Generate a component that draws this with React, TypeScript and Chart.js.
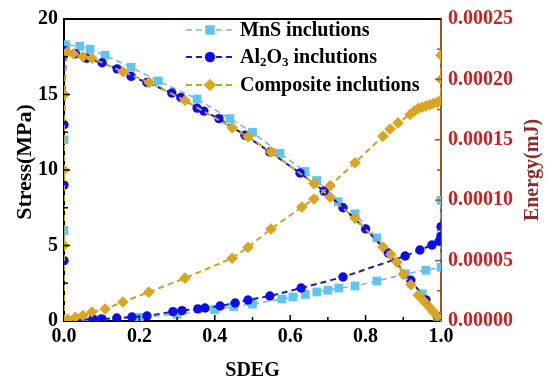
import React, { useEffect, useRef } from 'react';
import { Chart, registerables } from 'chart.js';

Chart.register(...registerables);

const FONT = "'Liberation Serif', 'Times New Roman', serif";

// ---- data (SDEG vs stress / energy) ----
const mnsStressX = [0, 0, 0, 0.004, 0.042, 0.069, 0.109, 0.178, 0.25, 0.353, 0.44, 0.5, 0.573, 0.639, 0.67, 0.727, 0.772, 0.83, 0.905, 0.95, 0.99];
const mnsStress = [0, 6, 12, 18.3, 18.2, 18.0, 17.6, 16.8, 15.9, 14.7, 13.4, 12.5, 11.1, 9.9, 9.3, 7.9, 7.1, 5.5, 3.1, 1.8, 0.3];

const alStressX = [0, 0, 0, 0, 0.003, 0.03, 0.06, 0.101, 0.141, 0.178, 0.22, 0.286, 0.31, 0.353, 0.371, 0.411, 0.48, 0.546, 0.626, 0.69, 0.74, 0.8, 0.86, 0.92, 0.96, 0.99];
const alStress = [0, 4, 9, 13, 17.9, 17.7, 17.4, 17.1, 16.7, 16.2, 15.8, 15.1, 14.8, 14.1, 13.9, 13.4, 12.3, 11.2, 9.8, 8.6, 7.5, 6.1, 4.5, 2.7, 1.4, 0.3];

const compStressX = [0, 0, 0, 0, 0.008, 0.025, 0.05, 0.074, 0.157, 0.226, 0.321, 0.446, 0.488, 0.549, 0.663, 0.706, 0.772, 0.846, 0.867, 0.883, 0.9, 0.92, 0.94, 0.955, 0.97, 0.98, 0.99];
const compStress = [0, 5, 10, 15, 17.8, 17.7, 17.5, 17.4, 16.5, 15.8, 14.6, 12.8, 12.2, 11.2, 9.1, 8.2, 6.8, 4.9, 4.4, 3.9, 3.1, 2.4, 1.7, 1.3, 0.9, 0.6, 0.3];

const mnsEnergyX = [0, 0.1, 0.2, 0.3, 0.4, 0.45, 0.5, 0.578, 0.607, 0.64, 0.671, 0.7, 0.729, 0.772, 0.83, 0.905, 0.96, 1.0, 1.0, 1.0];
const mnsEnergy = [0, 0.000001, 0.000003, 0.0000055, 0.0000095, 0.000012, 0.000014, 0.0000182, 0.0000199, 0.000022, 0.000024, 0.0000255, 0.0000273, 0.000029, 0.0000331, 0.0000389, 0.000042, 0.0000445, 0.00007, 0.0001];

const alEnergyX = [0, 0.04, 0.077, 0.1, 0.14, 0.18, 0.22, 0.289, 0.313, 0.355, 0.374, 0.414, 0.454, 0.488, 0.546, 0.629, 0.74, 0.905, 0.944, 0.976, 0.995, 1.0, 1.0];
const alEnergy = [0, 0.000001, 0.0000017, 0.0000017, 0.0000025, 0.0000033, 0.0000041, 0.0000078, 0.0000086, 0.00001, 0.0000108, 0.0000124, 0.0000149, 0.0000174, 0.0000207, 0.0000273, 0.0000364, 0.0000538, 0.0000588, 0.0000629, 0.000066, 0.00007, 0.000078];

const compEnergyX = [0, 0.01, 0.03, 0.05, 0.074, 0.109, 0.156, 0.225, 0.321, 0.446, 0.488, 0.549, 0.631, 0.663, 0.706, 0.772, 0.846, 0.865, 0.886, 0.918, 0.93, 0.94, 0.95, 0.96, 0.97, 0.98, 0.99, 1.0, 1.0, 1.0];
const compEnergy = [0, 0.0000015, 0.000003, 0.0000045, 0.0000074, 0.0000099, 0.0000157, 0.0000239, 0.0000355, 0.000052, 0.000061, 0.0000762, 0.0000944, 0.000101, 0.000112, 0.000131, 0.000153, 0.000159, 0.000164, 0.000171, 0.000174, 0.000176, 0.000177, 0.000178, 0.000179, 0.00018, 0.000181, 0.000183, 0.0002, 0.00022];

// ---- ticks & labels ----
const xMajor = [0, 0.2, 0.4, 0.6, 0.8, 1.0];
const xMinor = [0.1, 0.3, 0.5, 0.7, 0.9];
const stressMajor = [5, 10, 15];
const stressMinor = [2.5, 7.5, 12.5, 17.5];
const energyMajor = [0.00005, 0.0001, 0.00015, 0.0002];
const energyMinor = [0.000025, 0.000075, 0.000125, 0.000175, 0.000225];

const xTitle = 'SDEG';
const yTitle = 'Stress(MPa)';
const y1Title = 'Energy(mJ)';

const legendRows = [
  { parts: [{ t: 'MnS inclutions' }], key: 'mns' },
  { parts: [{ t: 'Al' }, { t: '2', sub: true }, { t: 'O' }, { t: '3', sub: true }, { t: ' inclutions' }], key: 'al' },
  { parts: [{ t: 'Composite inclutions' }], key: 'comp' },
];

const STYLE: any = {
  mns: { line: '#86b2e6', point: '#5fc4f0', shape: 'rect', radius: 6.2 },
  al: { line: '#1d1da6', point: '#0c0cf2', shape: 'circle', radius: 4.7 },
  comp: { line: '#c9a227', point: '#dba520', shape: 'rectRot', radius: 5.8 },
};

const RIGHT_AXIS = '#a0522d';

function pts(xs: number[], ys: number[]) {
  return xs.map((x, i) => ({ x, y: ys[i] }));
}

function ds(label: string, key: string, data: any, axis: string) {
  const s = STYLE[key];
  return {
    label,
    data,
    yAxisID: axis,
    borderColor: s.line,
    borderWidth: key === 'mns' ? 1.6 : 2,
    borderDash: [6, 4],
    backgroundColor: s.point,
    pointBackgroundColor: s.point,
    pointBorderColor: s.point,
    pointBorderWidth: 0,
    pointStyle: s.shape,
    pointRadius: s.radius,
    tension: 0,
    fill: false,
  };
}

function marker(ctx: CanvasRenderingContext2D, shape: string, r: number, x: number, y: number) {
  ctx.beginPath();
  if (shape === 'circle') {
    ctx.arc(x, y, r, 0, Math.PI * 2);
  } else if (shape === 'rect') {
    const h = r * Math.SQRT1_2;
    ctx.rect(x - h, y - h, 2 * h, 2 * h);
  } else {
    ctx.moveTo(x - r, y);
    ctx.lineTo(x, y - r);
    ctx.lineTo(x + r, y);
    ctx.lineTo(x, y + r);
    ctx.closePath();
  }
  ctx.fill();
}

const decorPlugin = {
  id: 'decor',
  afterDatasetsDraw(chart: any) {
    const { ctx, chartArea, scales } = chart;
    const { left, right, top, bottom } = chartArea;
    ctx.save();
    ctx.strokeStyle = '#000';
    ctx.lineWidth = 2;
    ctx.beginPath();
    ctx.moveTo(left - 1, top);
    ctx.lineTo(right, top);
    ctx.stroke();

    ctx.lineWidth = 1.5;
    const tick = (x1: number, y1: number, x2: number, y2: number, color: string) => {
      ctx.strokeStyle = color;
      ctx.beginPath();
      ctx.moveTo(x1, y1);
      ctx.lineTo(x2, y2);
      ctx.stroke();
    };
    xMajor.forEach((v) => {
      const px = scales.x.getPixelForValue(v);
      if (v > 0 && v < 1) tick(px, bottom, px, bottom - 6, '#000');
    });
    xMinor.forEach((v) => {
      const px = scales.x.getPixelForValue(v);
      tick(px, bottom, px, bottom - 4, '#000');
    });
    stressMajor.forEach((v) => {
      const py = scales.y.getPixelForValue(v);
      tick(left, py, left + 6, py, '#000');
    });
    stressMinor.forEach((v) => {
      const py = scales.y.getPixelForValue(v);
      tick(left, py, left + 4, py, '#000');
    });
    energyMajor.forEach((v) => {
      const py = scales.y1.getPixelForValue(v);
      tick(right, py, right - 6, py, RIGHT_AXIS);
    });
    energyMinor.forEach((v) => {
      const py = scales.y1.getPixelForValue(v);
      tick(right, py, right - 4, py, RIGHT_AXIS);
    });
    ctx.restore();
  },
  afterDraw(chart: any) {
    const { ctx, chartArea } = chart;
    const { left, right, top, bottom } = chartArea;
    ctx.save();
    ctx.fillStyle = '#000';
    ctx.textAlign = 'center';
    ctx.textBaseline = 'middle';
    ctx.font = `bold 20px ${FONT}`;
    ctx.fillText(xTitle, (left + right) / 2, 371);

    ctx.save();
    ctx.translate(25, (top + bottom) / 2 - 8);
    ctx.rotate(-Math.PI / 2);
    ctx.font = `bold 22px ${FONT}`;
    ctx.fillText(yTitle, 0, 0);
    ctx.restore();

    ctx.save();
    ctx.translate(533, (top + bottom) / 2);
    ctx.rotate(-Math.PI / 2);
    ctx.fillStyle = '#8b2b2b';
    ctx.font = `bold 20px ${FONT}`;
    ctx.fillText(y1Title, 0, 0);
    ctx.restore();

    const rowsY = [30, 57, 85];
    const lineX1 = 186;
    const lineX2 = 232;
    const markX = 210;
    const textX = 240;
    legendRows.forEach((row, i) => {
      const s = STYLE[row.key];
      const y = rowsY[i];
      ctx.strokeStyle = s.line;
      ctx.lineWidth = row.key === 'mns' ? 1.6 : 2;
      ctx.setLineDash([6, 4]);
      ctx.beginPath();
      ctx.moveTo(lineX1, y);
      ctx.lineTo(lineX2, y);
      ctx.stroke();
      ctx.setLineDash([]);
      ctx.fillStyle = s.point;
      marker(ctx, s.shape, s.radius + 0.5, markX, y);

      ctx.fillStyle = '#000';
      ctx.textAlign = 'left';
      ctx.textBaseline = 'middle';
      let x = textX;
      row.parts.forEach((p: any) => {
        if (p.sub) {
          ctx.font = `bold 13px ${FONT}`;
          ctx.fillText(p.t, x, y + 6);
        } else {
          ctx.font = `bold 20px ${FONT}`;
          ctx.fillText(p.t, x, y + 1);
        }
        x += ctx.measureText(p.t).width;
      });
    });
    ctx.restore();
  },
};

export default function App() {
  const ref = useRef<HTMLCanvasElement | null>(null);

  useEffect(() => {
    document.body.style.margin = '0';
    const canvas = ref.current;
    if (!canvas) return;
    const tickFont = { family: FONT, size: 20, weight: 'bold' as const };
    const chart = new Chart(canvas, {
      type: 'line',
      data: {
        datasets: [
          ds('Composite stress', 'comp', pts(compStressX, compStress), 'y'),
          ds('Composite energy', 'comp', pts(compEnergyX, compEnergy), 'y1'),
          ds('Al2O3 stress', 'al', pts(alStressX, alStress), 'y'),
          ds('Al2O3 energy', 'al', pts(alEnergyX, alEnergy), 'y1'),
          ds('MnS stress', 'mns', pts(mnsStressX, mnsStress), 'y'),
          ds('MnS energy', 'mns', pts(mnsEnergyX, mnsEnergy), 'y1'),
        ] as any,
      },
      options: {
        responsive: false,
        animation: false,
        devicePixelRatio: 1,
        layout: { padding: { top: 18, left: 0, right: 0, bottom: 0 } },
        plugins: { legend: { display: false }, tooltip: { enabled: false } },
        scales: {
          x: {
            type: 'linear',
            position: 'bottom',
            min: 0,
            max: 1,
            grid: { display: false, drawTicks: false },
            border: { display: true, color: '#000', width: 2 },
            ticks: {
              stepSize: 0.2,
              color: '#000',
              font: tickFont,
              padding: 4,
              maxRotation: 0,
              callback: (v: any) => Number(v).toFixed(1),
            },
            afterFit: (s: any) => { s.height = 69; },
          },
          y: {
            type: 'linear',
            position: 'left',
            min: 0,
            max: 20,
            grid: { display: false, drawTicks: false },
            border: { display: true, color: '#000', width: 2 },
            ticks: {
              stepSize: 5,
              color: '#000',
              font: tickFont,
              padding: 6,
              callback: (v: any) => String(Math.round(Number(v))),
            },
            afterFit: (s: any) => { s.width = 64; },
          },
          y1: {
            type: 'linear',
            position: 'right',
            min: 0,
            max: 0.00025,
            grid: { display: false, drawTicks: false },
            border: { display: true, color: RIGHT_AXIS, width: 2 },
            ticks: {
              stepSize: 0.00005,
              color: '#cc1f1f',
              font: tickFont,
              padding: 7,
              callback: (v: any) => Number(v).toFixed(5),
            },
            afterFit: (s: any) => { s.width = 109; },
          },
        },
      } as any,
      plugins: [decorPlugin],
    });
    return () => chart.destroy();
  }, []);

  return (
    <div style={{ width: 550, height: 390, background: '#fff' }}>
      <canvas ref={ref} width={550} height={390} />
    </div>
  );
}
